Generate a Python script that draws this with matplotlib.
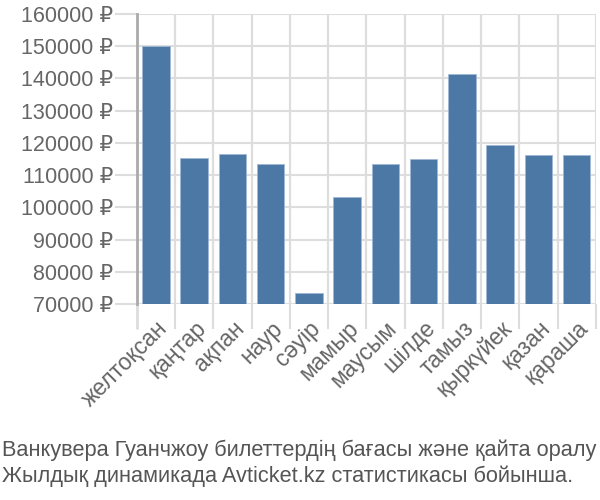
import matplotlib
matplotlib.use('Agg')
from matplotlib import pyplot as plt
from matplotlib.ticker import FuncFormatter
import numpy as np

plt.rcParams['font.family'] = ['Liberation Sans', 'DejaVu Sans']

months = ['желтоқсан', 'қаңтар', 'ақпан', 'наур', 'сәуір', 'мамыр',
          'маусым', 'шілде', 'тамыз', 'қыркүйек', 'қазан', 'қараша']
prices = [150200, 115200, 116700, 113300, 73450, 103100,
          113300, 115100, 141500, 119400, 116300, 116300]
y_ticks = list(range(70000, 160001, 10000))
caption = ('Ванкувера Гуанчжоу билеттердің бағасы және қайта оралу\n'
           'Жылдық динамикада Avticket.kz статистикасы бойынша.')

grid_color = '#dddddd'
text_color = '#666666'

fig = plt.figure(figsize=(6, 5), dpi=100)
ax = fig.add_axes([0.228, 0.392, 0.765, 0.58])

x = np.arange(len(months))
borders = np.arange(-0.5, len(months), 1.0)

# grid first, bars on top
for b in borders:
    ax.axvline(b, color=grid_color, linewidth=1.6, zorder=0.5)
ax.bar(x, prices, width=0.72, color='#4c78a6', edgecolor='#9fb8d4',
       linewidth=0.6, zorder=3)

ax.set_ylim(70000, 160000)
ax.set_xlim(-0.5, len(months) - 0.5)
ax.set_yticks(y_ticks)
ax.yaxis.set_major_formatter(FuncFormatter(lambda v, p: f'{int(v)} ₽'))
ax.yaxis.grid(True, color=grid_color, linewidth=1.5, zorder=0.4)

ax.set_xticks(borders)
ax.set_xticklabels([])
ax.set_xticks(x, minor=True)
ax.set_xticklabels(months, minor=True, rotation=45, ha='right',
                   rotation_mode='anchor')

ax.tick_params(axis='x', which='minor', length=0, pad=9, labelsize=16.5,
               labelcolor=text_color)
ax.tick_params(axis='x', which='major', length=18, color=grid_color, width=1.5)
ax.tick_params(axis='y', length=16, color=grid_color, width=1.5, pad=1,
               labelsize=15.5, labelcolor=text_color)
ax.xaxis.get_major_ticks()[0].tick1line.set_color('#aaaaaa')
ax.xaxis.get_major_ticks()[0].tick1line.set_markeredgewidth(2)

for side in ['top', 'right', 'bottom']:
    ax.spines[side].set_visible(False)
ax.spines['left'].set_color('#aaaaaa')
ax.spines['left'].set_linewidth(2)

fig.text(0.003, 0.026, caption, ha='left', va='bottom', fontsize=15.7,
         color='#555555', linespacing=1.3)

fig.savefig('out.png', dpi=100)
